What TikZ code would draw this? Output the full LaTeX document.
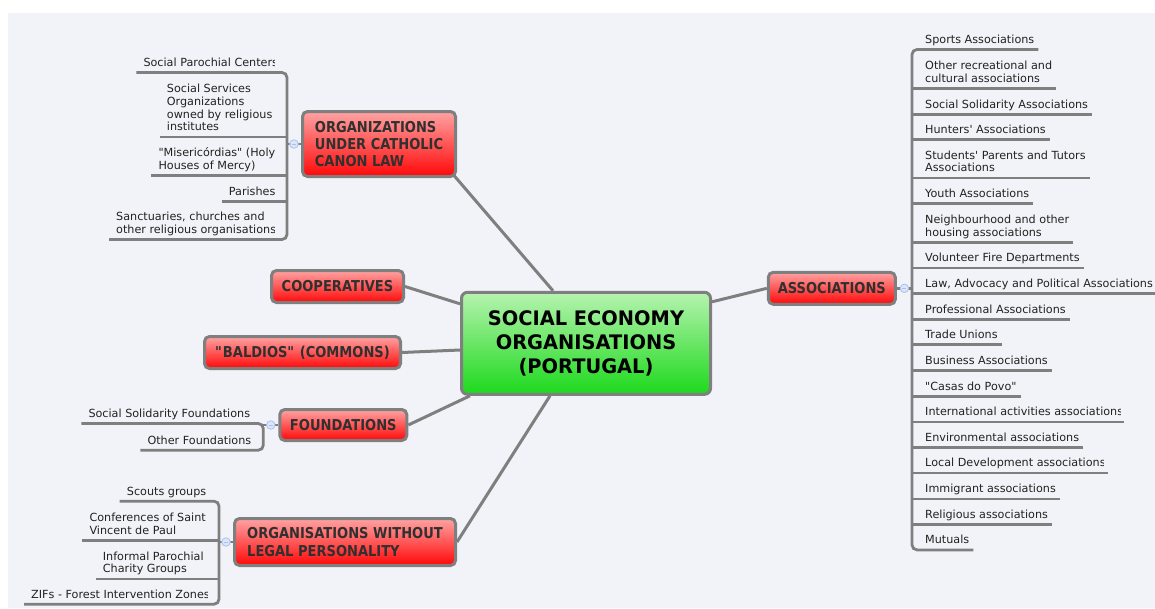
\documentclass[tikz,border=0pt]{standalone}
\usepackage{fontspec}
\setmainfont{DejaVu Sans}
\newfontfamily\headfont[FakeStretch=0.87]{DejaVu Sans}
\newfontfamily\hubfont[FakeStretch=0.97]{DejaVu Sans}
\usetikzlibrary{calc}
\pgfdeclarelayer{background}
\pgfsetlayers{background,main}

\definecolor{pagebg}{HTML}{F2F3F8}
\definecolor{linegray}{HTML}{7F7F7F}
\definecolor{redtop}{HTML}{FFA3A3}
\definecolor{redbot}{HTML}{FF0808}
\definecolor{greentop}{HTML}{B6F3AF}
\definecolor{greenbot}{HTML}{1CD91C}
\definecolor{dotfill}{HTML}{DCE6FA}
\definecolor{dotline}{HTML}{A9C1EE}
\definecolor{leafink}{HTML}{222222}
\definecolor{headink}{HTML}{303030}

% leaf text block: lines left aligned, baseline on the last line
\newcommand\lf[1]{\begin{tabular}[b]{@{}l@{}}#1\end{tabular}}

\tikzset{
  hub/.style={rectangle, rounded corners=6pt, draw=linegray, line width=3pt,
    top color=greentop, bottom color=greenbot, text=black, align=center,
    inner sep=0pt, font=\hubfont\bfseries\fontsize{20}{24.3}\selectfont},
  topic/.style={rectangle, rounded corners=5pt, draw=linegray, line width=3pt,
    top color=redtop, bottom color=redbot, text=headink, align=left,
    inner sep=0pt, font=\headfont\bfseries\fontsize{15}{17.3}\selectfont},
  leafL/.style={anchor=base west, inner xsep=7pt, inner ysep=2.19pt, text=leafink,
    font=\fontsize{11.2}{12.7}\selectfont},
  leafR/.style={leafL, inner xsep=4pt},
  twig/.style={draw=linegray, line width=2.8pt},
  conn/.style={draw=linegray, line width=3pt},
  knob/.style={circle, draw=dotline, fill=dotfill, line width=0.8pt,
    minimum size=8.5pt, inner sep=0pt,
    path picture={\draw[dotline, line width=0.9pt]
      ([xshift=-2pt]path picture bounding box.center) --
      ([xshift=2pt]path picture bounding box.center);}}
}

\begin{document}
\begin{tikzpicture}[x=1pt,y=-1pt]
\useasboundingbox (0,0) rectangle (1155,608);

% central topic and main branches
\node[hub, minimum width=249pt, minimum height=102pt] (hub) at (586,343.3)
  {SOCIAL ECONOMY\\ORGANISATIONS\\(PORTUGAL)};
\node[topic, minimum width=153pt, minimum height=65pt] (cath) at (379,144)
  {ORGANIZATIONS\\UNDER CATHOLIC\\CANON LAW};
\node[topic, minimum width=132pt, minimum height=32pt] (coop) at (337.5,286.5)
  {COOPERATIVES};
\node[topic, minimum width=196pt, minimum height=32pt] (bald) at (302.5,352.5)
  {\textquotedbl BALDIOS\textquotedbl{} (COMMONS)};
\node[topic, minimum width=127pt, minimum height=31pt] (found) at (343.3,425)
  {FOUNDATIONS};
\node[topic, minimum width=221pt, minimum height=47pt] (orgw) at (345,542)
  {ORGANISATIONS WITHOUT\\LEGAL PERSONALITY};
\node[topic, minimum width=127pt, minimum height=32pt] (assoc) at (831.8,288.3)
  {ASSOCIATIONS};

% spines of the sub-branch lists
\coordinate (spC) at (287,144.5);
\coordinate (spF) at (263.3,425);
\coordinate (spO) at (219,542.3);
\coordinate (spA) at (912,288.3);

% catholic canon law entries
\begin{scope}
  \clip (100,50) rectangle (274,73);
  \node[leafL] (c1) at (136.3,66.3) {\lf{Social Parochial Centers}};
\end{scope}
\node[leafL] (c2) at (159.7,130.7) {\lf{Social Services\\Organizations\\owned by religious\\institutes}};
\node[leafL] (c3) at (151.3,169) {\lf{\textquotedbl Misericórdias\textquotedbl{} (Holy\\Houses of Mercy)}};
\node[leafL] (c4) at (221.7,195) {\lf{Parishes}};
\begin{scope}
  \clip (100,205) rectangle (274,240);
  \node[leafL] (c5) at (109,233.3) {\lf{Sanctuaries, churches and\\other religious organisations}};
\end{scope}

% foundations entries
\node[leafL] (f1) at (81.3,417.3) {\lf{Social Solidarity Foundations}};
\begin{scope}
  \clip (130,430) rectangle (252.3,451);
  \node[leafL] (f2) at (140.3,444) {\lf{Other Foundations}};
\end{scope}

% entries without legal personality
\node[leafL] (o1) at (119.7,495) {\lf{Scouts groups}};
\node[leafL] (o2) at (82.3,534) {\lf{Conferences of Saint\\Vincent de Paul}};
\node[leafL] (o3) at (95.7,572.7) {\lf{Informal Parochial\\Charity Groups}};
\begin{scope}
  \clip (20,585) rectangle (207.3,606);
  \node[leafL] (o4) at (24,598) {\lf{ZIFs - Forest Intervention Zones}};
\end{scope}

% associations entries
\node[leafR] (r1) at (921,43.3) {\lf{Sports Associations}};
\node[leafR] (r2) at (921,82.3) {\lf{Other recreational and\\cultural associations}};
\node[leafR] (r3) at (921,108) {\lf{Social Solidarity Associations}};
\node[leafR] (r4) at (921,133.3) {\lf{Hunters\textquotesingle{} Associations}};
\node[leafR] (r5) at (921,171.7) {\lf{Students\textquotesingle{} Parents and Tutors\\Associations}};
\node[leafR] (r6) at (921,197.3) {\lf{Youth Associations}};
\node[leafR] (r7) at (921,236) {\lf{Neighbourhood and other\\housing associations}};
\begin{scope}
  \clip (915,250) rectangle (1079.3,268);
  \node[leafR] (r8) at (921,261.7) {\lf{\makebox[154.3pt][l]{Volunteer Fire Departments}}};
\end{scope}
\node[leafR] (r9) at (921,287.3) {\lf{Law, Advocacy and Political Associations}};
\node[leafR] (r10) at (921,313) {\lf{Professional Associations}};
\node[leafR] (r11) at (921,338.3) {\lf{Trade Unions}};
\node[leafR] (r12) at (921,364) {\lf{Business Associations}};
\node[leafR] (r13) at (921,390) {\lf{\textquotedbl Casas do Povo\textquotedbl}};
\begin{scope}
  \clip (915,405) rectangle (1120,422);
  \node[leafR] (r14) at (921,415.7) {\lf{\makebox[195pt][l]{International activities associations}}};
\end{scope}
\node[leafR] (r15) at (921,441) {\lf{Environmental associations}};
\begin{scope}
  \clip (915,455) rectangle (1103.3,473);
  \node[leafR] (r16) at (921,466.7) {\lf{\makebox[178.3pt][l]{Local Development associations}}};
\end{scope}
\node[leafR] (r17) at (921,492.7) {\lf{Immigrant associations}};
\node[leafR] (r18) at (921,518.3) {\lf{Religious associations}};
\node[leafR] (r19) at (921,543.7) {\lf{Mutuals}};

\begin{pgfonlayer}{background}
  % page and canvas
  \fill[white] (0,0) rectangle (1155,608);
  \fill[pagebg] (8,12.7) rectangle (1155,608);

  % central connectors
  \draw[conn] ([xshift=-33pt]hub.north) -- ([xshift=-6pt,yshift=6pt]cath.south east);
  \draw[conn] ([yshift=-13pt]hub.north west) -- (coop.east);
  \draw[conn] ([yshift=-6.7pt]hub.west) -- (bald.east);
  \draw[conn] ([xshift=10pt]hub.south west) -- (found.east);
  \draw[conn] ([xshift=-36pt]hub.south) -- (orgw.east);
  \draw[conn] ([yshift=-11pt]hub.north east) -- (assoc.west);

  % catholic list
  \draw[twig] (cath.west) -- (cath.west -| spC);
  \draw[twig, rounded corners=5pt] (c1.south west) -- (c1.south west -| spC)
    -- (c5.south west -| spC) -- (c5.south west);
  \foreach \n in {c2,c3,c4} \draw[twig] (\n.south west) -- (\n.south west -| spC);

  % foundations list
  \draw[twig] (found.west) -- (found.west -| spF);
  \draw[twig, rounded corners=5pt] (f1.south west) -- (f1.south west -| spF)
    -- (f2.south west -| spF) -- (f2.south west);

  % without legal personality list
  \draw[twig] (orgw.west) -- (orgw.west -| spO);
  \draw[twig, rounded corners=5pt] (o1.south west) -- (o1.south west -| spO)
    -- (o4.south west -| spO) -- (o4.south west);
  \foreach \n in {o2,o3} \draw[twig] (\n.south west) -- (\n.south west -| spO);

  % associations list
  \draw[twig] (assoc.east) -- (assoc.east -| spA);
  \draw[twig, rounded corners=5pt] (r1.south east) -- (r1.south east -| spA)
    -- (r19.south east -| spA) -- (r19.south east);
  \foreach \n in {r2,r3,r4,r5,r6,r7,r8,r9,r10,r11,r12,r13,r14,r15,r16,r17,r18}
    \draw[twig] (\n.south east) -- (\n.south east -| spA);
\end{pgfonlayer}

% collapse knobs
\node[knob] (kC) at ($(cath.west)!0.5!(cath.west -| spC)$) {};
\node[knob] (kF) at ($(found.west)!0.5!(found.west -| spF)$) {};
\node[knob] (kO) at ($(orgw.west)!0.5!(orgw.west -| spO)$) {};
\node[knob] (kA) at ($(assoc.east)!0.5!(assoc.east -| spA)$) {};
\end{tikzpicture}
\end{document}
